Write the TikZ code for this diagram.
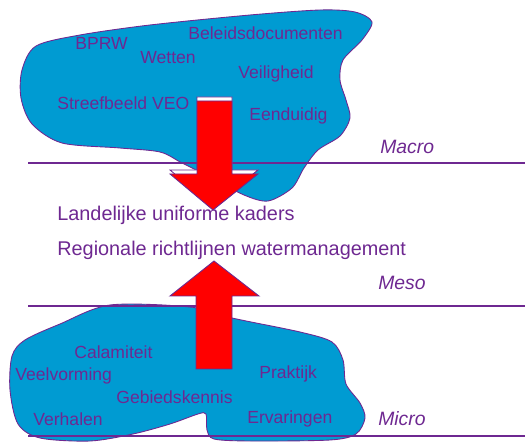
\documentclass[tikz,border=0pt]{standalone}
\usepackage{fontspec}
\setmainfont{Liberation Sans}
\usetikzlibrary{positioning}
\definecolor{veopurple}{RGB}{110,40,145}
\definecolor{veoblue}{RGB}{0,155,210}

\begin{document}
\begin{tikzpicture}[
      x=0.02cm, y=-0.02cm,
      cloud/.style={draw=veopurple, fill=veoblue, line width=0.5pt},
      levelline/.style={draw=veopurple, line width=1.2pt},
      bigarrow/.style={draw=veopurple, fill=red, line width=0.5pt, line join=miter},
      word/.style={text=veopurple, font=\fontsize{10}{12}\selectfont, anchor=west, inner sep=0pt},
      phrase/.style={text=veopurple, font=\fontsize{11.3}{13}\selectfont, anchor=west, inner sep=0pt},
      levelname/.style={text=veopurple, font=\fontsize{11}{13}\selectfont\itshape, anchor=west, inner sep=0pt}
    ]
    \useasboundingbox (0,0) rectangle (525,442);

    % top cloud
    \draw[cloud] plot[smooth cycle, tension=0.5] coordinates {
      (22,70) (36,46) (80,35) (150,25) (250,15) (320,10) (355,12) (372,22)
      (362,40) (343,60) (340,80) (346,100) (350,118) (340,136) (318,150) (304,168)
      (292,188) (268,201) (244,195) (212,178) (182,163) (160,152)
      (120,148) (62,143) (32,124) (21,98)};
    % bottom cloud
    \draw[cloud] plot[smooth cycle, tension=0.5] coordinates {
      (110,305) (190,307) (232,318) (300,332) (332,342) (343,360)
      (346,384) (360,403) (365,418) (356,434) (330,440) (250,441)
      (214,439) (207,430) (206,414) (198,414) (170,424) (133,434)
      (90,441) (40,438) (18,424) (10,390) (12,356) (25,340) (60,324)};

    % levels
    \coordinate (macroL) at (28,163);  \coordinate (macroR) at (525,163);
    \coordinate (mesoL) at (28,306);   \coordinate (mesoR) at (525,306);
    \coordinate (microL) at (28,436);  \coordinate (microR) at (525,436);
    \draw[levelline] (macroL) -- (macroR);
    \draw[levelline] (mesoL) -- (mesoR);
    \draw[levelline] (microL) -- (microR);

    % arrows
    \begin{scope}[shift={(0,-4)}]
      \draw[veopurple, fill=white, line width=0.5pt]
        (197,101) -- (232,101) -- (232,174) -- (258,174) -- (213,210) -- (170,174) -- (197,174) -- cycle;
    \end{scope}
    \draw[bigarrow] (197,101) -- (232,101) -- (232,174) -- (258,174) -- (213,210) -- (170,174) -- (197,174) -- cycle;
    \draw[bigarrow] (196,369) -- (232,369) -- (232,296) -- (259,296) -- (214,261) -- (170,296) -- (196,296) -- cycle;

    % macro words
    \node[word] (bprw) at (75,43) {BPRW};
    \node[word] (wetten) at (140,58) {Wetten};
    \node[word] (beleid) at (188,33) {Beleidsdocumenten};
    \node[word] (veilig) at (238,74) {Veiligheid};
    \node[word] (streef) at (57,103) {Streefbeeld VEO};
    \node[word] (eendu) at (249,116) {Eenduidig};
    \node[levelname] (macro) at (380,147) {Macro};

    % meso
    \node[phrase] (landelijk) at (57,215) {Landelijke uniforme kaders};
    \node[phrase] (regionaal) at (57,250) {Regionale richtlijnen watermanagement};
    \node[levelname] (meso) at (378,283) {Meso};

    % micro words
    \node[word] (calam) at (74,352) {Calamiteit};
    \node[word] (veelv) at (15,376) {Veelvorming};
    \node[word] (prakt) at (259,374) {Praktijk};
    \node[word] (gebied) at (116,397) {Gebiedskennis};
    \node[word] (verhaal) at (33,419) {Verhalen};
    \node[word] (ervaring) at (247,419) {Ervaringen};
    \node[levelname] (micro) at (378,419) {Micro};
  \end{tikzpicture}
\end{document}
